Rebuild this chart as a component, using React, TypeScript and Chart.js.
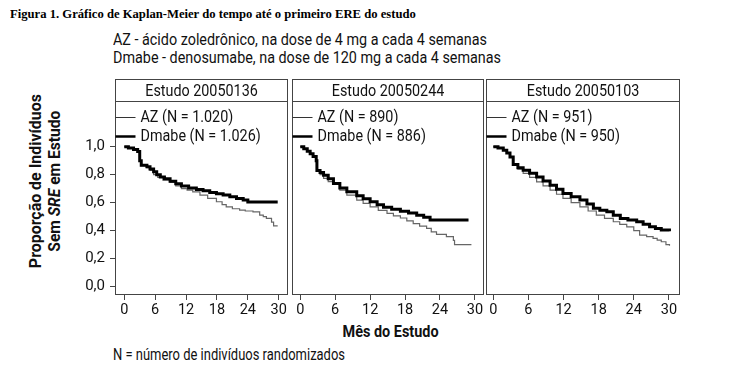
import React, { useEffect, useRef } from "react";
import { Chart, registerables } from "chart.js";

Chart.register(...registerables);

const SANS = 'Roboto, "Liberation Sans", sans-serif';
const SERIF = '"Liberation Serif", "Times New Roman", serif';

// ---------- data ----------
const studyTitles = ["Estudo 20050136", "Estudo 20050244", "Estudo 20050103"];
const azLabels = ["AZ (N = 1.020)", "AZ (N = 890)", "AZ (N = 951)"];
const dmabeLabels = ["Dmabe (N = 1.026)", "Dmabe (N = 886)", "Dmabe (N = 950)"];
const xTickValues = [0, 6, 12, 18, 24, 30];
const yTickValues = [0, 0.2, 0.4, 0.6, 0.8, 1.0];

// Estudo 20050136
const s1DmabeMonths = [0, 0.8, 1.8, 2.6, 3.0, 3.3, 4.4, 5.0, 5.7, 6.3, 7.0, 7.8, 8.9, 10.0, 11.1, 12.5, 14.0, 15.3, 16.6, 17.9, 19.2, 20.5, 21.8, 23.1, 24.0, 29.8];
const s1DmabeSurv = [1.0, 0.99, 0.98, 0.965, 0.9, 0.868, 0.856, 0.84, 0.82, 0.8, 0.784, 0.77, 0.753, 0.735, 0.718, 0.705, 0.694, 0.684, 0.673, 0.663, 0.654, 0.642, 0.63, 0.618, 0.605, 0.605];
const s1AzMonths = [0, 0.8, 1.8, 2.6, 3.0, 3.3, 4.4, 5.0, 5.7, 6.5, 7.5, 8.9, 10.0, 11.1, 12.2, 13.3, 14.7, 16.2, 17.9, 19.0, 19.8, 21.0, 22.4, 23.5, 25.0, 26.3, 27.0, 27.6, 28.6, 29.0, 29.8];
const s1AzSurv = [1.0, 0.99, 0.98, 0.965, 0.9, 0.865, 0.85, 0.83, 0.8, 0.78, 0.76, 0.744, 0.72, 0.7, 0.69, 0.677, 0.654, 0.63, 0.606, 0.585, 0.57, 0.556, 0.546, 0.54, 0.534, 0.51, 0.5, 0.487, 0.46, 0.434, 0.434];

// Estudo 20050244
const s2DmabeMonths = [0, 0.6, 1.2, 1.7, 2.2, 2.74, 2.86, 3.4, 4.0, 4.8, 5.7, 6.8, 8.0, 9.7, 10.8, 12.0, 13.2, 14.3, 15.7, 17.2, 18.6, 20.0, 21.2, 22.3, 28.9];
const s2DmabeSurv = [1.0, 0.985, 0.968, 0.95, 0.93, 0.9, 0.83, 0.815, 0.796, 0.77, 0.737, 0.705, 0.677, 0.649, 0.628, 0.606, 0.585, 0.566, 0.552, 0.539, 0.525, 0.51, 0.495, 0.475, 0.475];
const s2AzMonths = [0, 0.6, 1.2, 1.7, 2.2, 2.74, 2.86, 3.4, 4.0, 4.8, 5.7, 6.8, 8.0, 9.7, 10.8, 12.0, 13.4, 14.9, 16.0, 17.2, 18.3, 19.4, 20.5, 21.7, 22.5, 23.4, 25.1, 26.3, 26.5, 29.4];
const s2AzSurv = [1.0, 0.985, 0.968, 0.95, 0.93, 0.9, 0.83, 0.8, 0.773, 0.75, 0.73, 0.69, 0.654, 0.618, 0.594, 0.57, 0.545, 0.523, 0.505, 0.49, 0.47, 0.45, 0.432, 0.415, 0.39, 0.373, 0.356, 0.33, 0.3, 0.3];

// Estudo 20050103
const s3DmabeMonths = [0, 0.8, 1.7, 2.3, 2.85, 3.4, 4.2, 5.1, 6.2, 7.4, 8.5, 9.7, 10.8, 11.9, 13.3, 14.8, 16.0, 17.1, 18.2, 19.4, 20.5, 21.7, 23.0, 24.5, 25.6, 26.7, 27.7, 28.7, 30.1];
const s3DmabeSurv = [1.0, 0.99, 0.975, 0.955, 0.927, 0.873, 0.85, 0.832, 0.81, 0.784, 0.755, 0.725, 0.695, 0.666, 0.642, 0.618, 0.59, 0.559, 0.546, 0.534, 0.51, 0.487, 0.475, 0.463, 0.445, 0.427, 0.415, 0.404, 0.396];
const s3AzMonths = [0, 0.8, 1.7, 2.3, 2.85, 3.4, 4.2, 5.1, 6.2, 7.4, 8.5, 9.7, 10.8, 11.9, 13.3, 14.8, 16.2, 17.6, 19.0, 20.5, 21.6, 22.8, 24.0, 25.0, 26.2, 27.3, 28.0, 28.7, 29.5, 30.1];
const s3AzSurv = [1.0, 0.99, 0.975, 0.955, 0.927, 0.873, 0.84, 0.809, 0.78, 0.749, 0.72, 0.689, 0.66, 0.63, 0.6, 0.57, 0.54, 0.511, 0.487, 0.463, 0.445, 0.427, 0.4, 0.368, 0.356, 0.344, 0.332, 0.32, 0.3, 0.291];

const dmabeMonths = [s1DmabeMonths, s2DmabeMonths, s3DmabeMonths];
const dmabeSurv = [s1DmabeSurv, s2DmabeSurv, s3DmabeSurv];
const azMonths = [s1AzMonths, s2AzMonths, s3AzMonths];
const azSurv = [s1AzSurv, s2AzSurv, s3AzSurv];

const titleText = "Figura 1. Gráfico de Kaplan-Meier do tempo até o primeiro ERE do estudo";
const subtitle1 = "AZ - ácido zoledrônico, na dose de 4 mg a cada 4 semanas";
const subtitle2 = "Dmabe - denosumabe, na dose de 120 mg a cada 4 semanas";
const footnote = "N = número de indivíduos randomizados";
const xTitle = "Mês do Estudo";

// ---------- helpers ----------
let measureCtx: CanvasRenderingContext2D | null = null;
function measure(text: string, font: string): number {
  if (!measureCtx) measureCtx = document.createElement("canvas").getContext("2d");
  measureCtx!.font = font;
  return measureCtx!.measureText(text).width;
}
// horizontal condensation for regular text (reference uses a condensed grotesque)
function condense(): number {
  return 374 / measure(subtitle1, `16px ${SANS}`);
}

// ---------- layout ----------
type Geo = { left: number; width: number; padL: number; padR: number; yWidth: number; xMin: number; xMax: number; showY: boolean };
const geos: Geo[] = [
  { left: 70, width: 220, padL: 0, padR: 2, yWidth: 45, xMin: -1.8, xMax: 31.8, showY: true },
  { left: 290, width: 196, padL: 2, padR: 2, yWidth: 0, xMin: -1.42, xMax: 31.56, showY: false },
  { left: 484, width: 200, padL: 2, padR: 4, yWidth: 0, xMin: -1.25, xMax: 31.9, showY: false },
];
const CANVAS_TOP = 78;
const CANVAS_H = 240;
const HEADER_H = 22;

function scaledText(ctx: CanvasRenderingContext2D, text: string, x: number, y: number, sx: number) {
  ctx.save();
  ctx.translate(x, y);
  ctx.scale(sx, 1);
  ctx.fillText(text, 0, 0);
  ctx.restore();
}

const framePlugin = {
  id: "frame",
  afterDraw(chart: any) {
    const { ctx, chartArea } = chart;
    const { left, right, top, bottom } = chartArea;
    const idx = chart.options.plugins.frame.idx;
    const sx = condense();
    ctx.save();
    ctx.strokeStyle = "#444";
    ctx.lineWidth = 1;
    const l = Math.round(left) + 0.5;
    const r = Math.round(right) - 0.5;
    const t = Math.round(top) + 0.5;
    const b = Math.round(bottom) - 0.5;
    ctx.strokeRect(l, t - HEADER_H, r - l, b - t + HEADER_H);
    ctx.beginPath();
    ctx.moveTo(l, t);
    ctx.lineTo(r, t);
    ctx.stroke();
    // header
    ctx.fillStyle = "#111";
    ctx.font = `16.5px ${SANS}`;
    ctx.textAlign = "center";
    ctx.textBaseline = "middle";
    scaledText(ctx, studyTitles[idx], (l + r) / 2, t - HEADER_H / 2 + 1, sx * 0.97);
    // legend
    ctx.textAlign = "left";
    const y1 = t + 16;
    const y2 = t + 35;
    ctx.strokeStyle = "#333";
    ctx.lineWidth = 1;
    ctx.beginPath();
    ctx.moveTo(l, y1);
    ctx.lineTo(l + 20, y1);
    ctx.stroke();
    ctx.strokeStyle = "#000";
    ctx.lineWidth = 2.5;
    ctx.beginPath();
    ctx.moveTo(l, y2);
    ctx.lineTo(l + 20, y2);
    ctx.stroke();
    scaledText(ctx, azLabels[idx], l + 25, y1, sx * 0.97);
    scaledText(ctx, dmabeLabels[idx], l + 25, y2, sx * 0.97);
    ctx.restore();
  },
};

function Panel({ idx }: { idx: number }) {
  const ref = useRef<HTMLCanvasElement | null>(null);
  const g = geos[idx];
  useEffect(() => {
    if (!ref.current) return;
    const chart = new Chart(ref.current, {
      type: "line",
      data: {
        datasets: [
          {
            label: dmabeLabels[idx],
            data: dmabeMonths[idx].map((m, i) => ({ x: m, y: dmabeSurv[idx][i] })),
            borderColor: "#000",
            borderWidth: 3,
            stepped: "before",
            pointRadius: 0,
            fill: false,
          },
          {
            label: azLabels[idx],
            data: azMonths[idx].map((m, i) => ({ x: m, y: azSurv[idx][i] })),
            borderColor: "#666",
            borderWidth: 1.2,
            stepped: "before",
            pointRadius: 0,
            fill: false,
          },
        ],
      },
      options: {
        animation: false,
        responsive: false,
        maintainAspectRatio: false,
        layout: { padding: { top: HEADER_H + 1, left: g.padL, right: g.padR, bottom: 0 } },
        plugins: {
          legend: { display: false },
          tooltip: { enabled: false },
          frame: { idx },
        } as any,
        scales: {
          x: {
            type: "linear",
            min: g.xMin,
            max: g.xMax,
            afterBuildTicks: (s: any) => {
              s.ticks = xTickValues.map((v) => ({ value: v }));
            },
            afterFit: (s: any) => {
              s.height = 23;
            },
            grid: { display: true, drawOnChartArea: false, drawTicks: true, tickLength: 5, color: "#444" },
            border: { display: false },
            ticks: {
              font: { family: SANS, size: 14.5 },
              color: "#111",
              padding: 2,
              maxRotation: 0,
              autoSkip: false,
              callback: (v: any) => String(v),
            },
          },
          y: {
            type: "linear",
            display: g.showY,
            min: -0.061,
            max: 1.327,
            afterBuildTicks: (s: any) => {
              s.ticks = yTickValues.map((v) => ({ value: v }));
            },
            afterFit: (s: any) => {
              s.width = g.yWidth;
            },
            grid: { display: true, drawOnChartArea: false, drawTicks: true, tickLength: 5, color: "#444" },
            border: { display: false },
            ticks: {
              font: { family: SANS, size: 15 },
              color: "#111",
              padding: 5,
              callback: (v: any) => Number(v).toFixed(1).replace(".", ","),
            },
          },
        },
      } as any,
      plugins: [framePlugin],
    });
    return () => chart.destroy();
  }, [idx]);
  return (
    <canvas
      ref={ref}
      width={g.width}
      height={CANVAS_H}
      style={{ position: "absolute", left: g.left, top: CANVAS_TOP, width: g.width, height: CANVAS_H }}
    />
  );
}

function Fit({
  text,
  children,
  font,
  target,
  style,
  origin,
}: {
  text: string;
  children?: React.ReactNode;
  font: string;
  target: number;
  style: React.CSSProperties;
  origin: string;
}) {
  const s = target / measure(text, font);
  return (
    <div style={{ position: "absolute", whiteSpace: "nowrap", color: "#111", font, ...style }}>
      <span style={{ display: "inline-block", transform: `scaleX(${s})`, transformOrigin: origin }}>{children ?? text}</span>
    </div>
  );
}

export default function App() {
  const fSub = `16px/18px ${SANS}`;
  const yFont = `bold 17px/19px ${SANS}`;
  return (
    <div style={{ position: "absolute", left: 0, top: 0, width: 738, height: 370, background: "#fff", overflow: "hidden" }}>
      <Fit text={titleText} font={`bold 12.5px/14px ${SERIF}`} target={406} origin="left center" style={{ left: 10, top: 7, color: "#000" }} />
      <Fit text={subtitle1} font={fSub} target={374} origin="left center" style={{ left: 113, top: 31 }} />
      <Fit text={subtitle2} font={fSub} target={388} origin="left center" style={{ left: 113, top: 49 }} />
      {/* rotated y-axis title */}
      <div
        style={{
          position: "absolute",
          left: 45 - 110,
          top: 181 - 20,
          width: 220,
          height: 40,
          transform: "rotate(-90deg)",
          transformOrigin: "center center",
        }}
      >
        <Fit text="Proporção de Indivíduos" font={yFont} target={174} origin="center center" style={{ left: 0, top: 1, width: 220, textAlign: "center" }} />
        <Fit text="Sem SRE em Estudo" font={yFont} target={142} origin="center center" style={{ left: 0, top: 20, width: 220, textAlign: "center" }}>
          Sem <i>SRE</i> em Estudo
        </Fit>
      </div>
      {[0, 1, 2].map((i) => (
        <Panel key={i} idx={i} />
      ))}
      <Fit text={xTitle} font={`bold 17px/18px ${SANS}`} target={96} origin="center center" style={{ left: 291, width: 200, top: 322, textAlign: "center" }} />
      <Fit text={footnote} font={`16px/18px ${SANS}`} target={232} origin="left center" style={{ left: 113, top: 346 }} />
    </div>
  );
}
